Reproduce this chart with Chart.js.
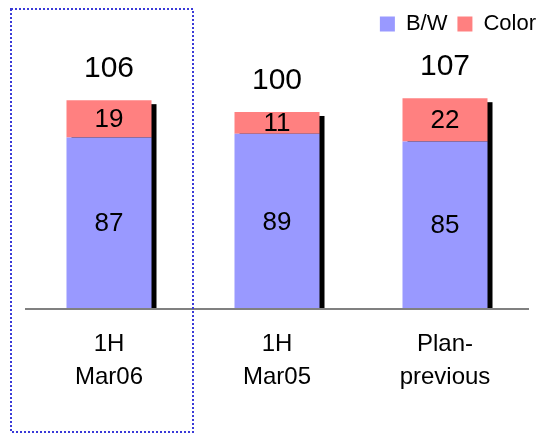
<!DOCTYPE html>
<html>
<head>
<meta charset="utf-8">
<script src="https://cdn.jsdelivr.net/npm/chart.js@4/dist/chart.umd.min.js"></script>
<style>
html,body{margin:0;padding:0;background:#fff;}
#wrap{width:539px;height:433px;position:relative;}
</style>
</head>
<body>
<div id="wrap"><canvas id="c" width="539" height="433"></canvas></div>
<script>
const categories = [['1H','Mar06'], ['1H','Mar05'], ['Plan-','previous']];
const bwValues = [87, 89, 85];
const colorValues = [19, 11, 22];
const seriesNames = ['B/W', 'Color'];
const highlightIndex = 0;

const FONT = "'Liberation Sans', Arial, sans-serif";

const decorPlugin = {
  id: 'decor',
  afterLayout(chart) {
    if (chart.legend) { chart.legend.left += 17; chart.legend.right += 17; }
  },
  beforeDatasetsDraw(chart) {
    const ctx = chart.ctx;
    const top = chart.getDatasetMeta(chart.data.datasets.length - 1);
    const base = chart.getDatasetMeta(0);
    ctx.save();
    ctx.fillStyle = '#000';
    top.data.forEach((el, i) => {
      const b = base.data[i];
      const half = el.width / 2;
      ctx.fillRect(el.x - half + 5, el.y + 4, half * 2, b.base - el.y - 4);
    });
    ctx.restore();
  },
  afterDatasetsDraw(chart) {
    const ctx = chart.ctx;
    const ca = chart.chartArea;
    ctx.save();
    ctx.strokeStyle = '#808080';
    ctx.lineWidth = 2;
    ctx.beginPath();
    ctx.moveTo(ca.left, ca.bottom);
    ctx.lineTo(ca.right, ca.bottom);
    ctx.stroke();
    ctx.fillStyle = '#000';
    ctx.textAlign = 'center';
    ctx.textBaseline = 'middle';
    ctx.font = '26px ' + FONT;
    chart.data.datasets.forEach((ds, di) => {
      const meta = chart.getDatasetMeta(di);
      meta.data.forEach((el, i) => {
        ctx.fillText(String(ds.data[i]), el.x, (el.y + el.base) / 2 + 1);
      });
    });
    ctx.font = '30px ' + FONT;
    const topMeta = chart.getDatasetMeta(chart.data.datasets.length - 1);
    topMeta.data.forEach((el, i) => {
      const total = bwValues[i] + colorValues[i];
      ctx.fillText(String(total), el.x, el.y - 31);
    });
    const xs = chart.scales.x;
    const cx = xs.getPixelForValue(highlightIndex);
    ctx.strokeStyle = '#3a3ad8';
    ctx.lineWidth = 2;
    ctx.setLineDash([2, 2]);
    ctx.strokeRect(Math.round(cx - 99) + 1, 9, 182, 423);
    ctx.restore();
  }
};

new Chart(document.getElementById('c'), {
  type: 'bar',
  data: {
    labels: categories,
    datasets: [
      { label: seriesNames[0], data: bwValues, backgroundColor: '#9999FF', borderWidth: 0 },
      { label: seriesNames[1], data: colorValues, backgroundColor: '#FF8080', borderWidth: 0 }
    ]
  },
  options: {
    responsive: false,
    animation: false,
    devicePixelRatio: 1,
    layout: { padding: { left: 25, right: 10, top: 3, bottom: 0 } },
    datasets: { bar: { categoryPercentage: 1.0, barPercentage: 0.506 } },
    scales: {
      x: {
        stacked: true,
        offset: true,
        grid: { display: false, drawTicks: false },
        border: { display: false },
        ticks: { color: '#000', font: { family: FONT, size: 24, lineHeight: 1.375 }, padding: 19, maxRotation: 0 },
        afterFit(s) { s.height = 124; }
      },
      y: {
        stacked: true,
        display: false,
        min: 0,
        max: 134
      }
    },
    plugins: {
      legend: {
        position: 'top',
        align: 'end',
        labels: {
          color: '#000',
          font: { family: FONT, size: 22 },
          boxWidth: 15,
          boxHeight: 15,
          padding: 10
        }
      },
      tooltip: { enabled: false }
    }
  },
  plugins: [decorPlugin]
});
</script>
</body>
</html>
